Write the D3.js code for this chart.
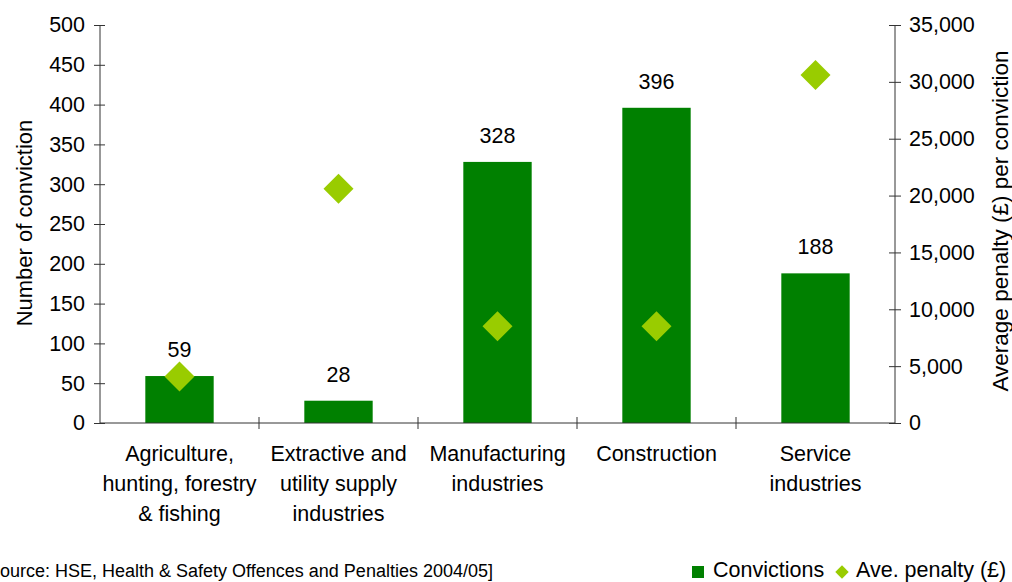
<!DOCTYPE html>
<html>
<head>
<meta charset="utf-8">
<script src="https://cdn.jsdelivr.net/npm/d3@7"></script>
<style>
  html, body { margin: 0; padding: 0; background: #fff; }
  svg { display: block; font-family: "Liberation Sans", Arial, sans-serif; }
</style>
</head>
<body>
<svg id="chart" width="1012" height="582"></svg>
<script>
// Convictions by industry sector, with average penalty per conviction
const categories = [
  ["Agriculture,", "hunting, forestry", "& fishing"],
  ["Extractive and", "utility supply", "industries"],
  ["Manufacturing", "industries"],
  ["Construction"],
  ["Service", "industries"]
];
const convictions = [59, 28, 328, 396, 188];
const avgPenalty = [4100, 20600, 8500, 8500, 30600];
const leftTicks = [0, 50, 100, 150, 200, 250, 300, 350, 400, 450, 500];
const rightTicks = [0, 5000, 10000, 15000, 20000, 25000, 30000, 35000];

const barColor = "#008000";
const markColor = "#99CC00";
const axisColor = "#333";
const fontSize = 21.5;

const svg = d3.select("#chart");
const plot = { left: 100, right: 895, top: 25, bottom: 423 };

const keys = categories.map((c, i) => i);
const x = d3.scaleBand().domain(keys).range([plot.left, plot.right]).paddingInner(0.57).paddingOuter(0.285);
const xOuter = d3.scaleBand().domain(keys).range([plot.left, plot.right]);
const yL = d3.scaleLinear().domain([0, 500]).range([plot.bottom, plot.top]);
const yR = d3.scaleLinear().domain([0, 35000]).range([plot.bottom, plot.top]);

// Bars
svg.append("g").selectAll("rect").data(convictions).join("rect")
  .attr("x", (d, i) => x(i))
  .attr("y", d => yL(d))
  .attr("width", x.bandwidth())
  .attr("height", d => yL(0) - yL(d))
  .attr("fill", barColor);

// Bar value labels
svg.append("g").selectAll("text").data(convictions).join("text")
  .attr("x", (d, i) => x(i) + x.bandwidth() / 2)
  .attr("y", d => yL(d) - 19)
  .attr("text-anchor", "middle")
  .attr("font-size", fontSize)
  .attr("fill", "#000")
  .text(d => d);

// Left axis
const leftAxis = d3.axisLeft(yL).tickValues(leftTicks).tickSize(6).tickPadding(9);
const gL = svg.append("g").attr("transform", `translate(${plot.left},0)`).call(leftAxis);
gL.selectAll(".tick line").attr("x2", -6).attr("x1", 5);

// Right axis
const rightAxis = d3.axisRight(yR).tickValues(rightTicks).tickSize(6).tickPadding(8)
  .tickFormat(d3.format(","));
const gR = svg.append("g").attr("transform", `translate(${plot.right},0)`).call(rightAxis);
gR.selectAll(".tick line").attr("x1", -6).attr("x2", 6);

// Category axis, ticks between categories
const boundaries = keys.map(i => xOuter(i)).concat([plot.right]);
const gX = svg.append("g");
gX.append("line")
  .attr("x1", plot.left).attr("x2", plot.right)
  .attr("y1", plot.bottom).attr("y2", plot.bottom)
  .attr("stroke", axisColor);
gX.selectAll("line.tk").data(boundaries.slice(1, -1)).join("line")
  .attr("class", "tk")
  .attr("x1", d => d).attr("x2", d => d)
  .attr("y1", plot.bottom - 6).attr("y2", plot.bottom + 6)
  .attr("stroke", axisColor);

[gL, gR].forEach(g => {
  g.select(".domain").attr("stroke", axisColor).attr("d", `M0,${plot.top}V${plot.bottom}`);
  g.selectAll(".tick line").attr("stroke", axisColor);
  g.selectAll(".tick text").attr("font-size", fontSize).attr("fill", "#000")
    .attr("font-family", "Liberation Sans, Arial, sans-serif");
});

// Category labels
const catG = svg.append("g").attr("font-size", fontSize).attr("fill", "#000").attr("text-anchor", "middle");
categories.forEach((lines, i) => {
  const cx = xOuter(i) + xOuter.bandwidth() / 2;
  const t = catG.append("text").attr("x", cx).attr("y", 461);
  lines.forEach((ln, j) => {
    t.append("tspan").attr("x", cx).attr("dy", j === 0 ? 0 : 30).text(ln);
  });
});

// Average penalty markers (diamonds)
svg.append("g").selectAll("path").data(avgPenalty).join("path")
  .attr("transform", (d, i) => `translate(${x(i) + x.bandwidth() / 2},${yR(d)}) rotate(45)`)
  .attr("d", d3.symbol().type(d3.symbolSquare).size(450))
  .attr("fill", markColor);

// Axis titles
svg.append("text")
  .attr("transform", `translate(32,223) rotate(-90)`)
  .attr("text-anchor", "middle")
  .attr("font-size", 22)
  .text("Number of conviction");
svg.append("text")
  .attr("transform", `translate(1008,221) rotate(-90)`)
  .attr("text-anchor", "middle")
  .attr("font-size", 22.5)
  .text("Average penalty (£) per conviction");

// Source note
svg.append("text")
  .attr("x", -17).attr("y", 577)
  .attr("font-size", 18)
  .text("[Source: HSE, Health & Safety Offences and Penalties 2004/05]");

// Legend
const lg = svg.append("g").attr("font-size", fontSize);
lg.append("rect").attr("x", 692).attr("y", 566).attr("width", 12).attr("height", 12).attr("fill", barColor);
lg.append("text").attr("x", 713).attr("y", 577).text("Convictions");
lg.append("path")
  .attr("transform", "translate(842,572) rotate(45)")
  .attr("d", d3.symbol().type(d3.symbolSquare).size(90))
  .attr("fill", markColor);
lg.append("text").attr("x", 856).attr("y", 577).text("Ave. penalty (£)");
</script>
</body>
</html>
